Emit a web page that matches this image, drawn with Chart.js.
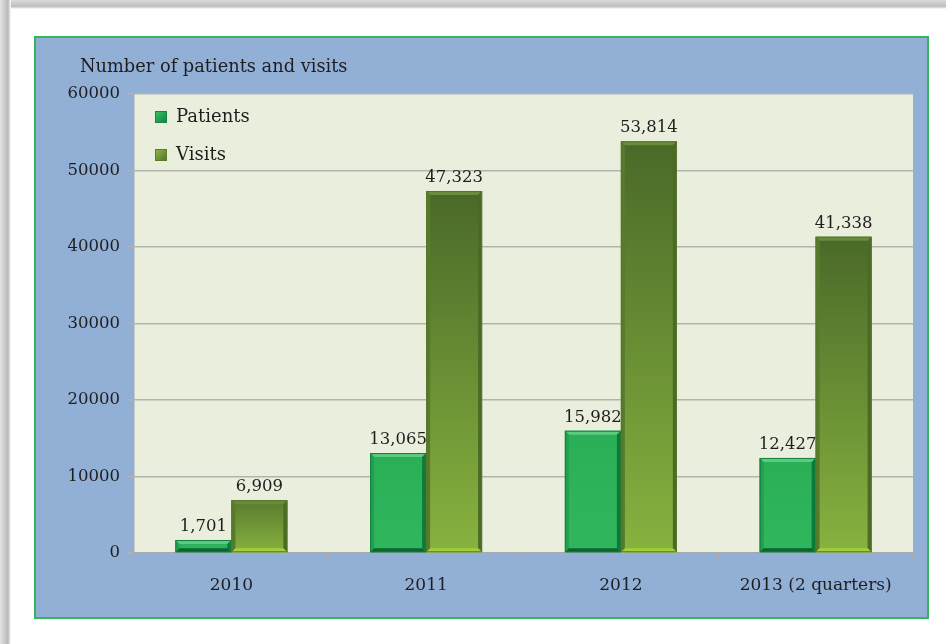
<!DOCTYPE html>
<html>
<head>
<meta charset="utf-8">
<script src="https://cdn.jsdelivr.net/npm/chart.js@4.4.1/dist/chart.umd.min.js"></script>
<style>
  html, body { margin: 0; padding: 0; background: #ffffff; width: 946px; height: 644px; overflow: hidden; position: relative; }
  #shadowTop { position: absolute; left: 0; top: 0; width: 946px; height: 9px; background: linear-gradient(to bottom, #dcdcdc, #bdbdbd 70%, #ffffff); }
  #shadowLeft { position: absolute; left: 0; top: 0; width: 11px; height: 644px; background: linear-gradient(to right, #e4e4e4, #b8b8b8 72%, #ffffff); }
  #panel { position: absolute; left: 34px; top: 36px; width: 891px; height: 579px; border: 2px solid #34b55c; background: #92b0d6; }
  canvas { display: block; }
</style>
</head>
<body>
<div id="shadowTop"></div>
<div id="shadowLeft"></div>
<div id="panel"><canvas id="c" width="891" height="579"></canvas></div>
<script>
const categories = ['2010', '2011', '2012', '2013 (2 quarters)'];
const patients = [1701, 13065, 15982, 12427];
const visits = [6909, 47323, 53814, 41338];
const seriesNames = ['Patients', 'Visits'];
const yTickMin = 0;
const yTickMax = 60000;
const yTickStep = 10000;
const chartTitle = 'Number of patients and visits';

const FONT = "'DejaVu Serif', 'Liberation Serif', serif";
const TEXT = '#1e1e1e';

function mix(c1, c2, t) {
  const a = [1, 3, 5].map(i => parseInt(c1.substr(i, 2), 16));
  const b = [1, 3, 5].map(i => parseInt(c2.substr(i, 2), 16));
  return 'rgb(' + a.map((v, k) => Math.round(v + (b[k] - v) * t)).join(',') + ')';
}

function visitsBg(ctx) {
  const chart = ctx.chart;
  const y = chart.scales && chart.scales.y;
  if (!y || ctx.type !== 'data' || ctx.raw == null) return '#6f9a33';
  const top = y.getPixelForValue(ctx.raw);
  const bot = y.getPixelForValue(0);
  if (!isFinite(top) || !isFinite(bot) || top === bot) return '#6f9a33';
  const h = bot - top;
  const g = chart.ctx.createLinearGradient(0, top, 0, bot);
  // shorter bars keep a lighter top
  const t = Math.max(0, Math.min(1, (120 - h) / 300));
  g.addColorStop(0, mix('#4a6929', '#87b33f', t));
  g.addColorStop(1, '#87b33f');
  return g;
}
function patientsBg(ctx) {
  const chart = ctx.chart;
  const y = chart.scales && chart.scales.y;
  if (!y || ctx.type !== 'data' || ctx.raw == null) return '#2db35a';
  const top = y.getPixelForValue(ctx.raw);
  const bot = y.getPixelForValue(0);
  if (!isFinite(top) || !isFinite(bot) || top === bot) return '#2db35a';
  const g = chart.ctx.createLinearGradient(0, top, 0, bot);
  g.addColorStop(0, '#2aaf57');
  g.addColorStop(1, '#30b75e');
  return g;
}

const bevelStyles = [
  { top: '#5ccb80', left: '#22a04f', right: '#0e7a39', bottom: '#0a6430', outline: '#127d3e' },
  { top: '#6a8b3c', left: '#587a2c', right: '#4c6a25', bottom: '#9fd038', outline: '#56772b' }
];

const plotBgPlugin = {
  id: 'plotBg',
  beforeDraw(chart) {
    const { ctx, chartArea: a } = chart;
    ctx.save();
    ctx.fillStyle = '#eaefdd';
    ctx.fillRect(a.left, a.top, a.right - a.left, a.bottom - a.top);
    ctx.restore();
  }
};

function poly(ctx, pts, color) {
  ctx.beginPath();
  ctx.moveTo(pts[0][0], pts[0][1]);
  for (let i = 1; i < pts.length; i++) ctx.lineTo(pts[i][0], pts[i][1]);
  ctx.closePath();
  ctx.fillStyle = color;
  ctx.fill();
}

const decoPlugin = {
  id: 'deco',
  afterDatasetsDraw(chart) {
    const ctx = chart.ctx;
    ctx.save();
    chart.data.datasets.forEach((ds, di) => {
      const meta = chart.getDatasetMeta(di);
      const st = bevelStyles[di];
      meta.data.forEach((bar, i) => {
        const w = bar.width;
        const l = bar.x - w / 2, r = bar.x + w / 2, t = bar.y, b = bar.base;
        const bv = Math.min(4, (b - t) / 2.5);
        poly(ctx, [[l, t], [r, t], [r - bv, t + bv], [l + bv, t + bv]], st.top);
        poly(ctx, [[l, t], [l + bv, t + bv], [l + bv, b - bv], [l, b]], st.left);
        poly(ctx, [[r, t], [r, b], [r - bv, b - bv], [r - bv, t + bv]], st.right);
        poly(ctx, [[l, b], [r, b], [r - bv, b - bv], [l + bv, b - bv]], st.bottom);
        ctx.strokeStyle = st.outline;
        ctx.lineWidth = 1;
        ctx.strokeRect(l + 0.5, t + 0.5, w - 1, b - t - 1);
        // value label
        ctx.fillStyle = TEXT;
        ctx.font = '16.5px ' + FONT;
        ctx.textAlign = 'center';
        ctx.textBaseline = 'alphabetic';
        ctx.fillText(Number(ds.data[i]).toLocaleString('en-US'), bar.x, t - 9);
      });
    });
    ctx.restore();
  },
  afterDraw(chart) {
    const ctx = chart.ctx;
    const a = chart.chartArea;
    ctx.save();
    // title
    ctx.fillStyle = TEXT;
    ctx.font = '17.8px ' + FONT;
    ctx.textAlign = 'left';
    ctx.textBaseline = 'middle';
    ctx.fillText(chartTitle, a.left - 54, a.top - 27);
    // legend
    chart.data.datasets.forEach((ds, di) => {
      const mx = a.left + 21, my = a.top + 23 + di * 38;
      const s = 12;
      const g = ctx.createLinearGradient(mx, my - s / 2, mx + s, my + s / 2);
      if (di === 0) { g.addColorStop(0, '#3cc46a'); g.addColorStop(1, '#0f7f3c'); }
      else { g.addColorStop(0, '#8fbc45'); g.addColorStop(1, '#4f6f28'); }
      ctx.fillStyle = g;
      ctx.fillRect(mx, my - s / 2, s, s);
      ctx.strokeStyle = di === 0 ? '#17854a' : '#5b7c2e';
      ctx.lineWidth = 1;
      ctx.strokeRect(mx + 0.5, my - s / 2 + 0.5, s - 1, s - 1);
      ctx.fillStyle = TEXT;
      ctx.font = '18px ' + FONT;
      ctx.textBaseline = 'middle';
      ctx.fillText(ds.label, mx + 21, my);
    });
    ctx.restore();
  }
};

new Chart(document.getElementById('c'), {
  type: 'bar',
  data: {
    labels: categories,
    datasets: [
      { label: seriesNames[0], data: patients, backgroundColor: patientsBg, borderWidth: 0, categoryPercentage: 0.575, barPercentage: 1 },
      { label: seriesNames[1], data: visits, backgroundColor: visitsBg, borderWidth: 0, categoryPercentage: 0.575, barPercentage: 1 }
    ]
  },
  options: {
    responsive: false,
    animation: false,
    layout: { padding: { top: 56, right: 14, left: 0, bottom: 0 } },
    plugins: {
      legend: { display: false },
      title: { display: false },
      tooltip: { enabled: false }
    },
    scales: {
      x: {
        offset: true,
        afterFit(s) { s.height = 64; },
        grid: { offset: true, drawOnChartArea: false, tickLength: 7, color: '#a9a9a9', lineWidth: 1.5 },
        border: { color: '#a9a9a9', width: 1.5 },
        ticks: { color: TEXT, font: { family: FONT, size: 17 }, padding: 15 }
      },
      y: {
        min: yTickMin,
        max: yTickMax,
        afterFit(s) { s.width = 98; },
        grid: { color: '#b3b3ad', lineWidth: 1.5, tickLength: 6 },
        border: { color: '#a9a9a9', width: 1.5 },
        ticks: { stepSize: yTickStep, color: TEXT, font: { family: FONT, size: 16.5 }, padding: 8, callback: v => String(v) }
      }
    }
  },
  plugins: [plotBgPlugin, decoPlugin]
});
</script>
</body>
</html>
